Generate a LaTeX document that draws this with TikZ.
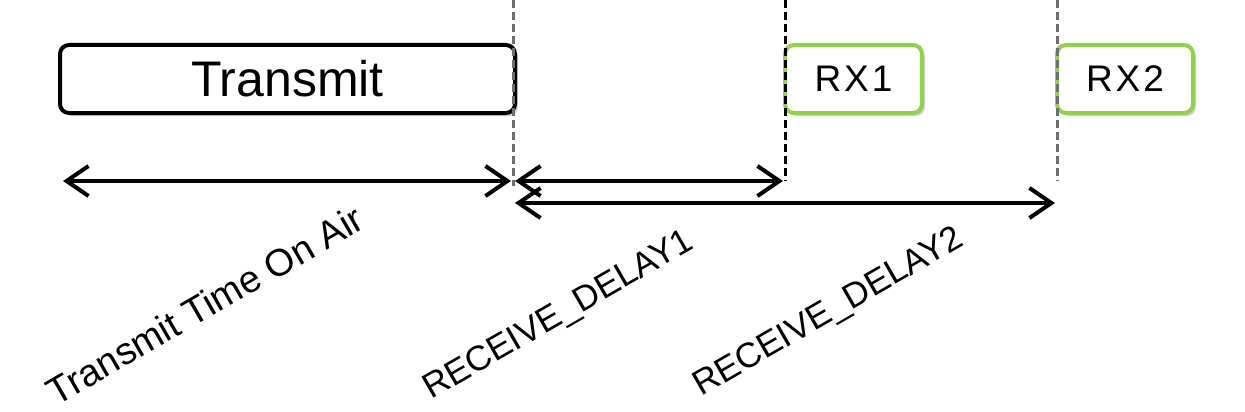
\documentclass[tikz,border=0pt]{standalone}
\usepackage{fontspec}
\setmainfont{Liberation Sans}
\usetikzlibrary{arrows.meta}
\definecolor{rxgreen}{HTML}{92D050}
\definecolor{dashgray}{HTML}{6E6E6E}
\tikzset{
  slotbox/.style={draw, rounded corners=9pt, line width=4pt, inner sep=0pt, fill=white},
  shadowbox/.style={fill=black!18, rounded corners=9pt, inner sep=0pt, draw=none},
  guide/.style={line width=3pt, dash pattern=on 8pt off 4pt},
  span/.style={line width=4pt, {Straight Barb[length=22pt,width=30pt,line width=4pt]}-{Straight Barb[length=22pt,width=30pt,line width=4pt]}},
  lbl/.style={rotate=30, inner sep=0pt},
}
\begin{document}
\begin{tikzpicture}[x=1pt,y=-1pt]
\useasboundingbox (0,0) rectangle (1245,412);
% shadows
\node[shadowbox, minimum width=455pt, minimum height=68pt] at (290.5,82) {};
\node[shadowbox, minimum width=137pt, minimum height=68pt] at (856.5,82) {};
\node[shadowbox, minimum width=136pt, minimum height=68pt] at (1128,82) {};
% boxes
\node[slotbox, minimum width=455pt, minimum height=68pt, font=\fontsize{50}{56}\selectfont] (tx) at (287.5,79) {Transmit};
\node[slotbox, draw=rxgreen, minimum width=137pt, minimum height=68pt, font=\fontsize{37}{42}\selectfont\addfontfeature{LetterSpace=8}] (rx1) at (853.5,79) {RX1};
\node[slotbox, draw=rxgreen, minimum width=136pt, minimum height=68pt, font=\fontsize{37}{42}\selectfont\addfontfeature{LetterSpace=8}] (rx2) at (1125,79) {RX2};
% guide coordinates
\coordinate (g0top) at (513,0);
\coordinate (g0bot) at (513,186);
\coordinate (g1top) at (785,0);
\coordinate (g1bot) at (785,181);
\coordinate (g2top) at (1057,0);
\coordinate (g2bot) at (1057,181);
\draw[guide, dashgray] (g0top) -- (g0bot);
\draw[guide, black] (g1top) -- (g1bot);
\draw[guide, dashgray] (g2top) -- (g2bot);
% span coordinates
\coordinate (a0) at (63,181);
\coordinate (a1) at (511,181);
\coordinate (b0) at (515,181);
\coordinate (b1) at (783,181);
\coordinate (c0) at (515,203);
\coordinate (c1) at (1055,203);
\draw[span] (a0) -- (a1);
\draw[span] (b0) -- (b1);
\draw[span] (c0) -- (c1);
% labels
\node[lbl, font=\fontsize{38}{42}\selectfont] (l1) at (205,305) {Transmit Time On Air};
\node[lbl, font=\fontsize{35}{40}\selectfont] (l2) at (559,316) {RECEIVE\_DELAY1};
\node[lbl, font=\fontsize{35}{40}\selectfont] (l3) at (829,313) {RECEIVE\_DELAY2};
\end{tikzpicture}
\end{document}
